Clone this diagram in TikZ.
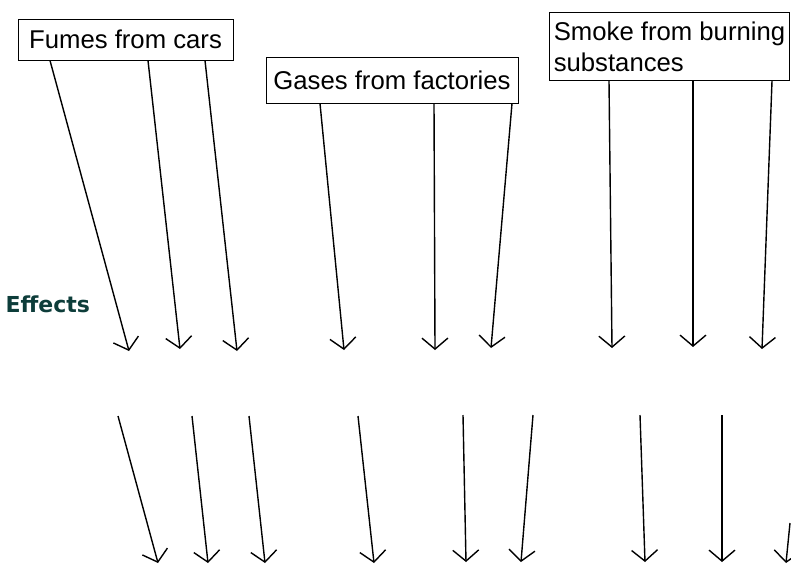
\documentclass[tikz,border=0pt]{standalone}
\usepackage{fontspec}
\setmainfont{Liberation Sans}
\newfontfamily\effectsfont{DejaVu Sans}
\usetikzlibrary{arrows.meta,positioning}
\definecolor{effcol}{HTML}{0D3D3A}

\begin{document}
\begin{tikzpicture}[x=1pt,y=-1pt,
  srcbox/.style={draw,line width=1pt,inner sep=0pt,font=\fontsize{25.7}{31}\selectfont},
  effarrow/.style={line width=1.4pt,-{Straight Barb[length=11pt,width=26pt,line width=1.4pt]}}]
  \useasboundingbox (0,0) rectangle (791,565);
  % sources
  \node[srcbox,minimum width=215pt,minimum height=41pt] (fumes) at (125.5,39.5) {Fumes from cars};
  \node[srcbox,minimum width=252pt,minimum height=46pt] (gases) at (392,80) {Gases from factories};
  \node[srcbox,anchor=north west,minimum width=240pt,minimum height=68pt,align=left] (smoke) at (549,12) {Smoke from burning\\substances};
  \node[anchor=base west,text=effcol,font=\effectsfont\bfseries\fontsize{22}{24}\selectfont] (effects) at (2,312) {Effects};
  % arrows from the sources
  \foreach \xa/\xb/\yb in {50/129/351,148/180/349,205/237/351}
    \draw[effarrow] (\xa,0 |- fumes.south) -- (\xb,\yb);
  \foreach \xa/\xb/\yb in {320/344/350,434/435/350,512/491/348}
    \draw[effarrow] (\xa,0 |- gases.south) -- (\xb,\yb);
  \foreach \xa/\xb/\yb in {609/612/348,693/693/347,772/762/349}
    \draw[effarrow] (\xa,0 |- smoke.south) -- (\xb,\yb);
  % second row
  \foreach \xa/\ya/\xb/\yb [count=\i] in {118/416/158/563,192/416/208/563,249/416/265/563,358/416/374/563,
      463/415/466/562,533/415/521/562,640/415/645/562,722/415/722/562,790/523/786/563} {
    \coordinate (b\i) at (\xa,\ya);
    \coordinate (c\i) at (\xb,\yb);
    \draw[effarrow] (b\i) -- (c\i);
  }
\end{tikzpicture}
\end{document}
